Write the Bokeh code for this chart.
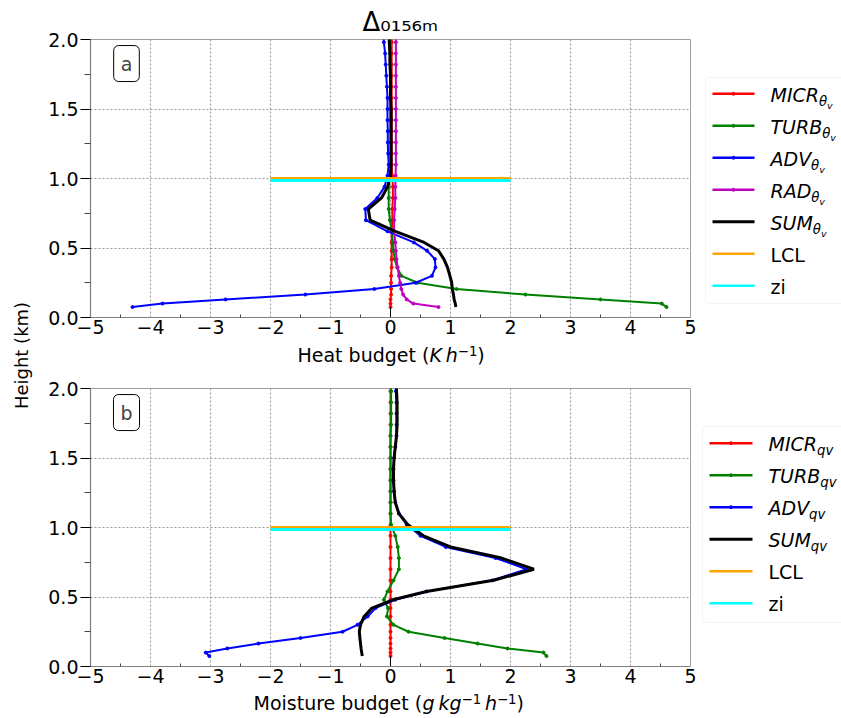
import math
from bokeh.plotting import figure
from bokeh.layouts import row, column
from bokeh.models import Range1d, FixedTicker, CustomJSTickFormatter, Label, BoxAnnotation, Title
from bokeh.embed import file_html
from bokeh.resources import INLINE

FONT = "DejaVu Sans"

# ---------------- data ----------------
heights = [0.075, 0.10, 0.13, 0.165, 0.205, 0.25, 0.30, 0.36, 0.42, 0.48,
           0.54, 0.62, 0.70, 0.78, 0.86, 0.94, 1.02, 1.10, 1.18, 1.26,
           1.34, 1.42, 1.50, 1.58, 1.66, 1.74, 1.82, 1.90, 1.98, 2.06]

micr_thv = [0.0, 0.0, 0.0, 0.01, 0.01, 0.01, 0.01, 0.02, 0.02, 0.02,
            0.02, 0.02, 0.03, 0.03, 0.04, 0.04, 0.03, 0.02, 0.02, 0.02,
            0.02, 0.02, 0.02, 0.02, 0.02, 0.02, 0.02, 0.02, 0.02, 0.02]
turb_thv = [4.6, 4.52, 3.5, 2.25, 1.1, 0.45, 0.18, 0.11, 0.07, 0.05,
            0.04, 0.02, -0.01, -0.03, -0.03, -0.03, -0.01, 0.0, 0.0, 0.0,
            0.0, 0.0, 0.0, 0.0, 0.0, 0.0, 0.0, -0.01, -0.01, -0.01]
adv_thv = [-4.3, -3.8, -2.75, -1.42, -0.27, 0.42, 0.69, 0.75, 0.74, 0.61,
           0.39, -0.05, -0.41, -0.42, -0.22, -0.10, -0.05, -0.03, -0.04, -0.045,
           -0.045, -0.05, -0.05, -0.05, -0.06, -0.07, -0.08, -0.09, -0.11, -0.12]
rad_thv = [0.8, 0.38, 0.27, 0.21, 0.18, 0.16, 0.14, 0.12, 0.10, 0.09,
           0.08, 0.06, 0.06, 0.07, 0.08, 0.08, 0.085, 0.09, 0.09, 0.09,
           0.09, 0.09, 0.09, 0.09, 0.09, 0.09, 0.09, 0.09, 0.09, 0.09]
sum_thv = [1.09, 1.08, 1.06, 1.05, 1.03, 1.02, 0.99, 0.95, 0.89, 0.80,
           0.56, 0.08, -0.34, -0.37, -0.15, -0.05, 0.0, 0.01, 0.01, 0.01,
           0.01, 0.01, 0.01, 0.0, 0.0, 0.0, -0.01, -0.01, -0.02, -0.03]

micr_qv = [0.0, 0.0, 0.0, 0.0, 0.0, 0.0, 0.0, 0.0, 0.0, 0.0,
           0.0, 0.0, 0.0, 0.0, 0.0, 0.0, 0.0, 0.0, 0.0, 0.0,
           0.0, 0.0, 0.0, 0.0, 0.0, 0.0, 0.0, 0.0, 0.0, 0.0]
turb_qv = [2.6, 2.55, 1.95, 1.45, 0.9, 0.3, 0.05, -0.06, -0.04, -0.11,
           -0.05, 0.05, 0.14, 0.14, 0.12, 0.08, 0.01, 0.0, 0.0, 0.0,
           0.0, 0.0, 0.0, 0.0, 0.0, 0.01, 0.01, 0.01, 0.01, 0.01]
adv_qv = [-3.02, -3.08, -2.72, -2.2, -1.5, -0.8, -0.55, -0.38, -0.25, 0.08,
          0.6, 1.7, 2.27, 1.75, 0.92, 0.5, 0.27, 0.14, 0.08, 0.06,
          0.05, 0.05, 0.06, 0.08, 0.1, 0.1, 0.1, 0.1, 0.09, 0.09]
sum_qv = [-0.47, -0.48, -0.49, -0.50, -0.51, -0.52, -0.50, -0.44, -0.31, 0.04,
          0.6, 1.72, 2.39, 1.85, 1.0, 0.55, 0.29, 0.14, 0.08, 0.06,
          0.05, 0.05, 0.06, 0.08, 0.1, 0.11, 0.11, 0.11, 0.1, 0.1]

lcl_height = 1.0
zi_height = 0.985
pbl_line_x = [-2, 2]

x_ticks = [-5, -4, -3, -2, -1, 0, 1, 2, 3, 4, 5]
x_minor = [-4.5, -3.5, -2.5, -1.5, -0.5, 0.5, 1.5, 2.5, 3.5, 4.5]
y_ticks = [0.0, 0.5, 1.0, 1.5, 2.0]
y_minor = [0.25, 0.75, 1.25, 1.75]

title_text = "\u0394\u2080\u2081\u2085\u2086\u2098"

# ---------------- text helpers ----------------
WID = {' ': 0.318, '(': 0.390, ')': 0.390, '\u2212': 0.838, '\u2009': 0.2,
       'A': 0.684, 'B': 0.686, 'C': 0.698, 'D': 0.770, 'H': 0.752, 'I': 0.295,
       'K': 0.656, 'L': 0.557, 'M': 0.863, 'R': 0.695, 'S': 0.635, 'T': 0.611,
       'U': 0.732, 'V': 0.684, 'a': 0.613, 'b': 0.635, 'd': 0.635, 'e': 0.615,
       'g': 0.635, 'h': 0.634, 'i': 0.278, 'k': 0.579, 'm': 0.974, 'o': 0.612,
       'q': 0.635, 'r': 0.411, 's': 0.521, 't': 0.392, 'u': 0.634, 'v': 0.592,
       'z': 0.525, '\u03b8': 0.602, '\u0394': 0.684}
for d in "0123456789":
    WID[d] = 0.636

MID = 0.346  # distance (in em) from the alphabetic baseline up to the text's middle


def tw(s, size):
    return sum(WID.get(c, 0.6) for c in s) * size


def rich(p, x, y, parts):
    """Place a run of text pieces so that their common baseline lies at y."""
    cur = 0.0
    for text, size, style, dy in parts:
        p.add_layout(Label(x=x, y=y, x_offset=cur, y_offset=dy + MID * size, text=text,
                           text_font=FONT, text_font_size=f"{size}px",
                           text_font_style=style, text_color="black",
                           text_align="left", text_baseline="middle"))
        cur += tw(text, size)


def strip(w, h, x0, y0):
    """A blank figure whose frame is its whole canvas, in page pixel units."""
    q = figure(width=w, height=h, x_range=Range1d(x0, x0 + w), y_range=Range1d(y0 + h, y0),
               output_backend="svg", toolbar_location=None, min_border=0, title=None,
               x_axis_location=None, y_axis_location=None, frame_align=False)
    q.grid.visible = False
    q.outline_line_color = None
    q.background_fill_color = "white"
    q.border_fill_color = "white"
    return q


def make_panel(h, top, bottom, series, letter, title=None):
    p = figure(width=658, height=h, x_range=Range1d(-5, 5), y_range=Range1d(0, 2),
               output_backend="svg", toolbar_location=None, frame_align=False, title=title,
               min_border_left=50, min_border_right=8,
               min_border_top=top, min_border_bottom=bottom)
    p.background_fill_color = "white"
    p.border_fill_color = "white"
    p.outline_line_color = "#a0a0a0"
    p.outline_line_width = 1

    p.xaxis.ticker = FixedTicker(ticks=x_ticks, minor_ticks=x_minor)
    p.yaxis.ticker = FixedTicker(ticks=y_ticks, minor_ticks=y_minor)
    p.xaxis.formatter = CustomJSTickFormatter(
        code="return (tick < 0 ? '\\u2212' : '') + Math.abs(tick).toFixed(0);")
    p.yaxis.formatter = CustomJSTickFormatter(code="return tick.toFixed(1);")
    for ax in (p.xaxis, p.yaxis):
        ax.axis_line_color = "#808080"
        ax.axis_line_width = 1.2
        ax.major_label_text_font = FONT
        ax.major_label_text_font_size = "19px"
        ax.major_label_text_color = "black"
        ax.major_tick_line_color = "black"
        ax.minor_tick_line_color = "#444444"
    p.xaxis.major_tick_in = 0
    p.xaxis.major_tick_out = 0
    p.xaxis.minor_tick_in = 3
    p.xaxis.minor_tick_out = 0
    p.xaxis.major_label_standoff = 2
    p.yaxis.major_tick_in = 0
    p.yaxis.major_tick_out = 10
    p.yaxis.minor_tick_in = 0
    p.yaxis.minor_tick_out = 6
    p.yaxis.major_label_standoff = 2
    p.grid.grid_line_color = "#8c8c8c"
    p.grid.grid_line_dash = "2 2"
    p.grid.grid_line_width = 0.9

    for vals, color, width, marker in series:
        p.line(vals, heights, line_color=color, line_width=width)
        if marker:
            p.scatter(vals, heights, size=3, marker="circle", color=color)
    p.line(pbl_line_x, [lcl_height, lcl_height], line_color="#ffa500", line_width=3)
    p.line(pbl_line_x, [zi_height, zi_height], line_color="#00ffff", line_width=3)
    p.segment(x0=[0], y0=[0], x1=[0], y1=[heights[0]], line_color="black", line_width=1)

    p.add_layout(Label(x=-4.4, y=1.827, text=letter, text_font=FONT, text_font_size="19px",
                       text_align="center", text_baseline="middle",
                       border_line_color="black", border_line_width=1,
                       border_radius=5, padding=7, background_fill_color="white"))
    return p


def make_legend(h, y0, entries, box, line_x, text_x, row0, step):
    q = strip(143, h, 698, y0)
    q.add_layout(BoxAnnotation(left=box[0], right=box[1], top=box[2], bottom=box[3],
                               fill_color="white", fill_alpha=1.0, line_color="#d8d8d8",
                               line_width=1, border_radius=4, level="underlay"))
    for i, (color, width, marker, parts) in enumerate(entries):
        yy = row0 + i * step
        q.line(line_x, [yy, yy], line_color=color, line_width=width)
        if marker:
            q.scatter([(line_x[0] + line_x[1]) / 2], [yy], size=3, marker="circle", color=color)
        rich(q, text_x, yy + 7.5, parts)
    return q


def sub_thv(name):
    return [(name, 19, "italic", 0), ("\u03b8", 13.3, "italic", -5), ("v", 9.5, "italic", -7)]


def sub_qv(name):
    return [(name, 19, "italic", 0), ("qv", 13.3, "italic", -4)]


# ---------------- panel a ----------------
title_a = Title(text=title_text, align="left", offset=272, standoff=6,
                text_font=FONT, text_font_size="26px", text_font_style="normal",
                text_color="black")
series_a = [(micr_thv, "#ff0000", 2, True), (turb_thv, "#008000", 2, True),
            (adv_thv, "#0000ff", 2, True), (rad_thv, "#bf00bf", 2, True),
            (sum_thv, "black", 3, False)]
fa = make_panel(342, 39, 25, series_a, "a", title=title_a)

xa = strip(658, 30, 40, 342)
rich(xa, 297, 361.5, [("Heat budget (", 19, "normal", 0), ("K\u2009h", 19, "italic", 0),
                      ("\u22121", 13.3, "normal", 6.5), (")", 19, "normal", 0)])

leg_a = [("#ff0000", 2.5, True, sub_thv("MICR")), ("#008000", 2.5, True, sub_thv("TURB")),
         ("#0000ff", 2.5, True, sub_thv("ADV")), ("#bf00bf", 2.5, True, sub_thv("RAD")),
         ("black", 3, False, sub_thv("SUM")), ("#ffa500", 2.5, False, [("LCL", 19, "normal", 0)]),
         ("#00ffff", 2.5, False, [("zi", 19, "normal", 0)])]
la = make_legend(372, 0, leg_a, (705, 860, 77, 303), [712, 754], 770, 93.3, 32)

# ---------------- panel b ----------------
series_b = [(micr_qv, "#ff0000", 2, True), (turb_qv, "#008000", 2, True),
            (adv_qv, "#0000ff", 2, True), (sum_qv, "black", 3, False)]
fb = make_panel(319, 16, 25, series_b, "b")

xb = strip(658, 27, 40, 691)
rich(xb, 253, 709.5, [("Moisture budget (", 19, "normal", 0), ("g\u2009kg", 19, "italic", 0),
                      ("\u22121", 13.3, "normal", 6), ("\u2009h", 19, "italic", 0),
                      ("\u22121", 13.3, "normal", 6), (")", 19, "normal", 0)])

leg_b = [("#ff0000", 2.5, True, sub_qv("MICR")), ("#008000", 2.5, True, sub_qv("TURB")),
         ("#0000ff", 2.5, True, sub_qv("ADV")), ("black", 3, False, sub_qv("SUM")),
         ("#ffa500", 2.5, False, [("LCL", 19, "normal", 0)]),
         ("#00ffff", 2.5, False, [("zi", 19, "normal", 0)])]
lb = make_legend(346, 372, leg_b, (702, 860, 426, 622), [709, 752], 768, 442.7, 32)

# ---------------- shared y label ----------------
yl = strip(40, 718, 0, 0)
yl.add_layout(Label(x=21, y=355, text="Height (km)", angle=math.pi / 2,
                    text_font=FONT, text_font_size="18px", text_align="center",
                    text_baseline="middle", text_color="black"))

layout = row(yl, column(fa, xa, fb, xb), column(la, lb))

open("out.html", "w").write(file_html(layout, INLINE))
